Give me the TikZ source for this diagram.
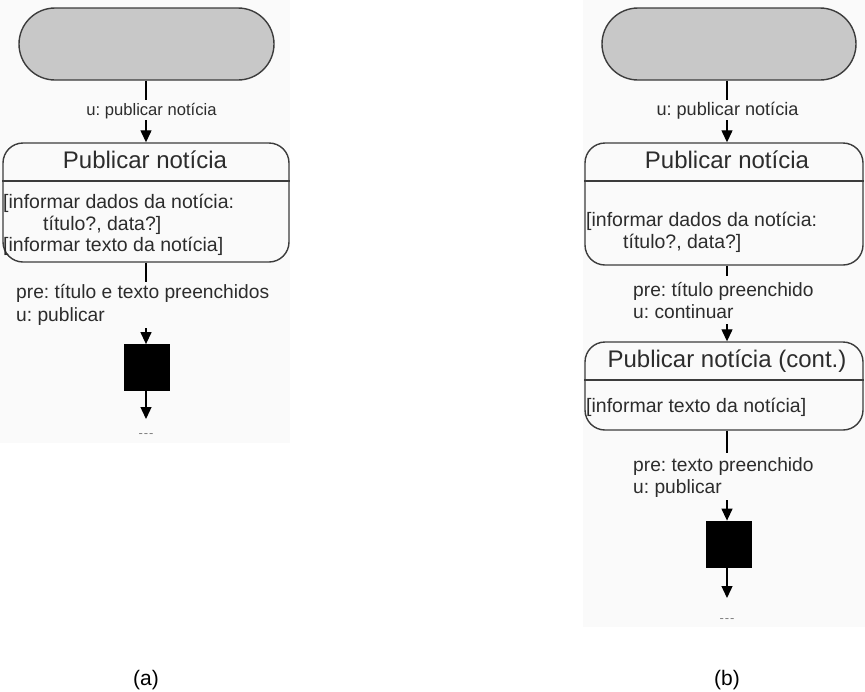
\documentclass[tikz,border=0pt]{standalone}
\usepackage{fontspec}
\setmainfont{Liberation Sans}
\usetikzlibrary{arrows.meta}
\definecolor{ink}{HTML}{2C2C2C}
\definecolor{edge}{HTML}{3C3C3C}
\definecolor{pillfill}{HTML}{C8C8C8}
\definecolor{panelbg}{HTML}{FAFAFA}
\definecolor{moreink}{HTML}{808080}
\frenchspacing
\begin{document}
\frenchspacing
\begin{tikzpicture}[x=1pt,y=-1pt,
  every node/.style={text=ink},
  pill/.style={draw=edge,line width=1.4pt,fill=pillfill,rounded corners=36pt,inner sep=0pt},
  scene/.style={draw=edge,line width=1.4pt,rounded corners=20pt,inner sep=0pt},
  divider/.style={draw=edge,line width=1.4pt},
  stop/.style={fill=black,draw=black,line width=0.8pt,inner sep=0pt,minimum width=45pt,minimum height=46pt},
  link/.style={draw=black,line width=1.3pt},
  flow/.style={link,-{Triangle[length=12pt,width=11pt]}},
  txt/.style={inner sep=0pt,anchor=base west},
  headtxt/.style={inner sep=0pt,anchor=base,font=\fontsize{24}{28}\selectfont},
  bodytxt/.style={txt,font=\fontsize{19.5}{22}\selectfont},
  condtxt/.style={txt,font=\fontsize{19.2}{22}\selectfont},
  more/.style={inner sep=0pt,anchor=base,text=moreink,font=\fontsize{13}{15}\selectfont},
  caption/.style={inner sep=0pt,anchor=base,text=black,font=\fontsize{21}{24}\selectfont}]
\useasboundingbox (0,0) rectangle (865,691);
\fill[white] (0,0) rectangle (865,691);
% panel backdrops
\fill[panelbg] (0,0) rectangle (290,443);
\fill[panelbg] (583,0) rectangle (865,627);

% ---------------- (a) single scene ----------------
\node[pill,minimum width=255pt,minimum height=72pt] (pA) at (146.5,44) {};
\coordinate (pAend) at (146,100);
\node[inner sep=0pt,anchor=base,font=\fontsize{16.6}{19}\selectfont] (lA1) at (151.5,115) {u: publicar notícia};
\coordinate (aA1) at (146,120);
\node[scene,minimum width=286pt,minimum height=119pt] (sA) at (146,202.5) {};
\draw[divider] (sA.west |- 0,181) -- (sA.east |- 0,181);
\node[headtxt] (hA) at (145,168) {Publicar notícia};
\node[bodytxt] (bA1) at (3,208) {[informar dados da notícia:};
\node[bodytxt] (bA2) at (43,230) {título?, data?]};
\node[bodytxt] (bA3) at (3,251.5) {[informar texto da notícia]};
\coordinate (sAend) at (146,282);
\node[condtxt] (cA1) at (16,298) {pre: título e texto preenchidos};
\node[condtxt] (cA2) at (16,321) {u: publicar};
\coordinate (aA2) at (146,328);
\node[stop] (kA) at (146.5,367.5) {};
\coordinate (aA3) at (146,419);
\node[more] (mA) at (146,437) {-\kern1pt-\kern1pt-};

\draw[link] (pA.south -| pAend) -- (pAend);
\draw[flow] (aA1) -- (sA.north -| aA1);
\draw[link] (sA.south -| sAend) -- (sAend);
\draw[flow] (aA2) -- (kA.north -| aA2);
\draw[flow] (kA.south -| aA3) -- (aA3);

% ---------------- (b) split scenes ----------------
\node[pill,minimum width=254pt,minimum height=72pt] (pB) at (729,44) {};
\coordinate (pBend) at (727,100);
\node[inner sep=0pt,anchor=base,font=\fontsize{18.1}{21}\selectfont] (lB1) at (727.5,115) {u: publicar notícia};
\coordinate (aB1) at (727,120);
\node[scene,minimum width=278pt,minimum height=122pt] (sB1) at (724,204) {};
\draw[divider] (sB1.west |- 0,181) -- (sB1.east |- 0,181);
\node[headtxt] (hB1) at (727,168) {Publicar notícia};
\node[bodytxt] (bB1) at (586,226) {[informar dados da notícia:};
\node[bodytxt] (bB2) at (623,248) {título?, data?]};
\coordinate (sB1end) at (727,276);
\node[condtxt] (cB1) at (633,296) {pre: título preenchido};
\node[condtxt] (cB2) at (633,318) {u: continuar};
\coordinate (aB2) at (727,324);
\node[scene,minimum width=278pt,minimum height=88pt] (sB2) at (724,386) {};
\draw[divider] (sB2.west |- 0,380) -- (sB2.east |- 0,380);
\node[headtxt] (hB2) at (727,367) {Publicar notícia (cont.)};
\node[bodytxt] (bB3) at (586,412) {[informar texto da notícia]};
\coordinate (sB2end) at (727,453);
\node[condtxt] (cB3) at (633,471) {pre: texto preenchido};
\node[condtxt] (cB4) at (633,493) {u: publicar};
\coordinate (aB3) at (727,500);
\node[stop] (kB) at (728.5,544) {};
\coordinate (aB4) at (727,598);
\node[more] (mB) at (727,622) {-\kern1pt-\kern1pt-};

\draw[link] (pB.south -| pBend) -- (pBend);
\draw[flow] (aB1) -- (sB1.north -| aB1);
\draw[link] (sB1.south -| sB1end) -- (sB1end);
\draw[flow] (aB2) -- (sB2.north -| aB2);
\draw[link] (sB2.south -| sB2end) -- (sB2end);
\draw[flow] (aB3) -- (kB.north -| aB3);
\draw[flow] (kB.south -| aB4) -- (aB4);

% captions
\node[caption] (capA) at (146,685) {(a)};
\node[caption] (capB) at (727,685) {(b)};
\end{tikzpicture}
\end{document}
